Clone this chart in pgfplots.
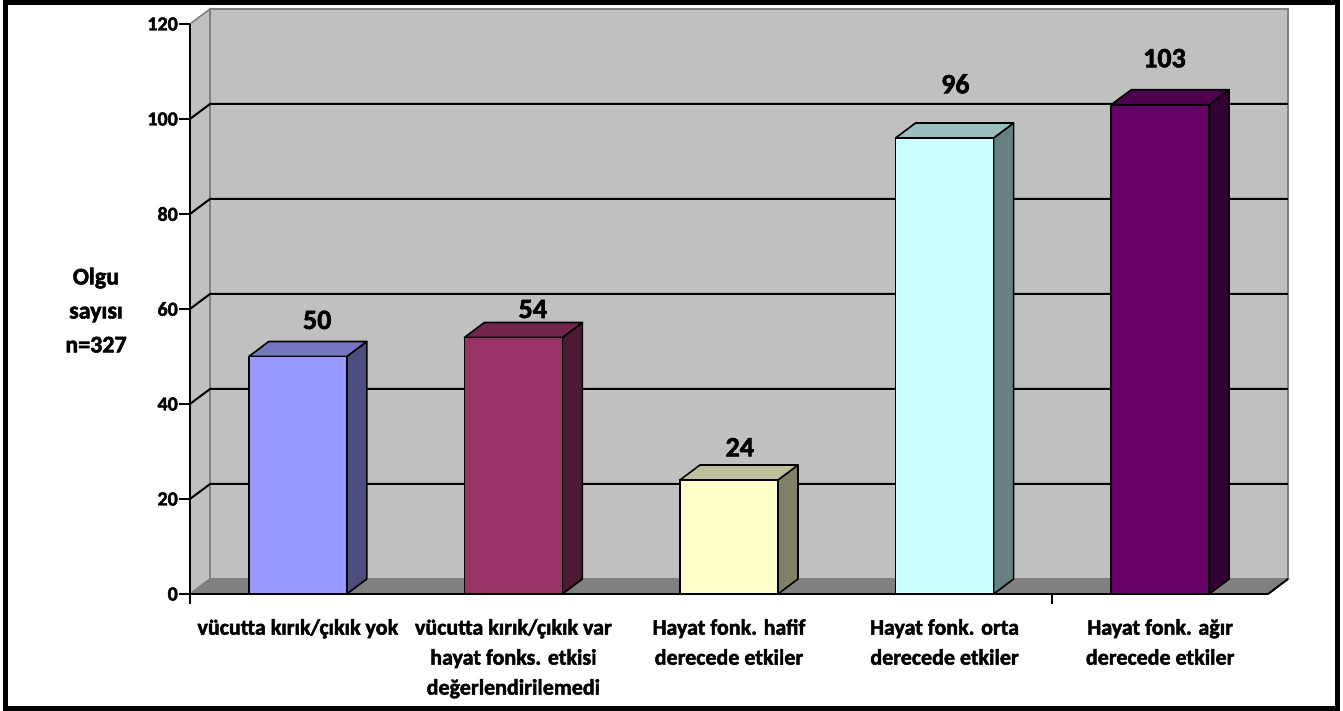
\documentclass[border=0pt]{standalone}
\usepackage{fontspec}
\setmainfont{Carlito}[BoldFeatures={FakeBold=2.2}]
\usepackage{pgfplots}
\usepackage{pgfplotstable}
\pgfplotsset{compat=1.18}
\definecolor{wallgray}{HTML}{C0C0C0}
\definecolor{floorgray}{HTML}{808080}
\definecolor{edgegray}{HTML}{808080}
\definecolor{fA}{HTML}{9999FF}\definecolor{sA}{HTML}{4D4D80}\definecolor{tA}{HTML}{7575C2}
\definecolor{fB}{HTML}{993366}\definecolor{sB}{HTML}{4C1A33}\definecolor{tB}{HTML}{73264D}
\definecolor{fC}{HTML}{FFFFCC}\definecolor{sC}{HTML}{808066}\definecolor{tC}{HTML}{BFBF99}
\definecolor{fD}{HTML}{CCFFFF}\definecolor{sD}{HTML}{668080}\definecolor{tD}{HTML}{99BFBF}
\definecolor{fE}{HTML}{660066}\definecolor{sE}{HTML}{330033}\definecolor{tE}{HTML}{4D004D}

% depth offsets (axis units): dx = 0.0928, dy = 3.158 ; half bar width 0.2273
\newcommand{\barthreed}[5]{%
  \pgfmathsetmacro{\xl}{#1-0.2273}%
  \pgfmathsetmacro{\xr}{#1+0.2273}%
  \pgfmathsetmacro{\xrr}{#1+0.2273+0.0928}%
  \pgfmathsetmacro{\xll}{#1-0.2273+0.0928}%
  \pgfmathsetmacro{\vt}{#2+3.158}%
  \edef\tmp{%
    \noexpand\addplot[fill=#4, draw=black, line width=1.6bp, line join=round] coordinates {(\xr,0) (\xrr,3.158) (\xrr,\vt) (\xr,#2)} -- cycle;
    \noexpand\addplot[fill=#5, draw=black, line width=1.6bp, line join=round] coordinates {(\xl,#2) (\xr,#2) (\xrr,\vt) (\xll,\vt)} -- cycle;
    \noexpand\addplot[ybar, bar width=0.4546, bar shift=0, fill=#3, draw=black, line width=1.6bp] coordinates {(#1,#2)};
  }\tmp}

\pgfplotstableread{
x y lab
0.09 57.7 50
1.09 60.0 54
2.05 30.9 24
3.05 107.4 96
4.02 112.8 103
}\labels

\begin{document}
\begin{tikzpicture}
\begin{axis}[
  scale only axis, width=1078bp, height=570bp,
  xmin=-0.5, xmax=4.5, ymin=0, ymax=120,
  clip=false, axis on top,
  axis x line*=bottom, axis y line*=left,
  axis line style={line width=2bp, black, -},
  ytick={0,20,40,60,80,100,120},
  yticklabels={0,20,40,60,80,100,120},
  xtick={0,1,2,3,4},
  xticklabels={vücutta kırık/çıkık yok,{vücutta kırık/çıkık var\\hayat fonks. etkisi\\değerlendirilemedi},{Hayat fonk. hafif\\derecede etkiler},{Hayat fonk. orta\\derecede etkiler},{Hayat fonk. ağır\\derecede etkiler}},
  tick align=outside,
  major tick length=11bp,
  ytick style={line width=2bp, black},
  xtick style={draw=none},
  /pgf/number format/assume math mode=true,
  yticklabel style={font=\bfseries\fontsize{20bp}{24bp}\selectfont, inner sep=1bp},
  xticklabel style={font=\bfseries\fontsize{22bp}{30bp}\selectfont, align=center, anchor=north, inner sep=0pt, yshift=-14bp},
]
% left side wall
\addplot[fill=wallgray, draw=edgegray, line width=1.5bp] coordinates {(-0.5,0) (-0.4072,3.158) (-0.4072,123.158) (-0.5,120)} -- cycle;
% back wall
\addplot[fill=wallgray, draw=edgegray, line width=2bp] coordinates {(-0.4072,3.158) (4.5928,3.158) (4.5928,123.158) (-0.4072,123.158)} -- cycle;
% floor
\addplot[fill=floorgray, draw=edgegray, line width=1.5bp] coordinates {(-0.5,0) (4.5,0) (4.5928,3.158) (-0.4072,3.158)} -- cycle;
\addplot[black, line width=2bp] coordinates {(4.5,0) (4.5928,3.158)};
% grid lines on side wall and back wall
\addplot[black, line width=2bp] coordinates {(-0.5,20) (-0.4072,23.158) (4.5928,23.158)};
\addplot[black, line width=2bp] coordinates {(-0.5,40) (-0.4072,43.158) (4.5928,43.158)};
\addplot[black, line width=2bp] coordinates {(-0.5,60) (-0.4072,63.158) (4.5928,63.158)};
\addplot[black, line width=2bp] coordinates {(-0.5,80) (-0.4072,83.158) (4.5928,83.158)};
\addplot[black, line width=2bp] coordinates {(-0.5,100) (-0.4072,103.158) (4.5928,103.158)};
% category boundary ticks
\addplot[black, line width=2bp] coordinates {(-0.5,0) (-0.5,-2)};
\addplot[black, line width=2bp] coordinates {(3.5,0) (3.5,-2)};
% bars
\barthreed{0}{50}{fA}{sA}{tA}
\barthreed{1}{54}{fB}{sB}{tB}
\barthreed{2}{24}{fC}{sC}{tC}
\barthreed{3}{96}{fD}{sD}{tD}
\barthreed{4}{103}{fE}{sE}{tE}
% value labels
\addplot[draw=none, mark=none, nodes near coords, point meta=explicit symbolic,
  every node near coord/.append style={anchor=center, font=\bfseries\fontsize{28bp}{32bp}\selectfont}]
  table[x=x, y=y, meta=lab] {\labels};
% y label
\node[align=center, font=\bfseries\fontsize{24bp}{34bp}\selectfont] at (rel axis cs:-0.0872,0.498) {Olgu\\sayısı\\n=327};
\end{axis}
% outer frame and page box
\draw[line width=5bp] (-184.5bp,591bp) rectangle (1147.5bp,-114.5bp);
\path (-190bp,594bp) (1153bp,-117bp);
\end{tikzpicture}
\end{document}
